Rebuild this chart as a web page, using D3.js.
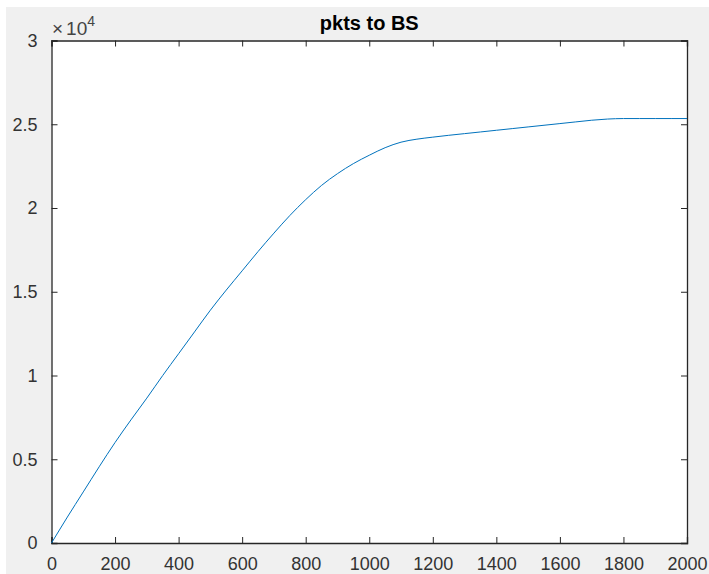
<!DOCTYPE html>
<meta charset="utf-8">
<style>
body { margin: 0; background: #fff; }
svg { display: block; }
.axis text { font-family: "Liberation Sans", Arial, sans-serif; font-size: 18px; fill: #333; }
.axis line, .axis path { stroke: #262626; }
</style>
<svg width="709" height="574"></svg>
<script src="https://d3js.org/d3.v7.min.js"></script>
<script>

// data
var pktX = [0, 50, 100, 150, 200, 250, 300, 350, 400, 450, 500, 550, 600, 650, 700, 750, 800, 850, 900, 950,
            1000, 1050, 1100, 1150, 1200, 1250, 1300, 1350, 1400, 1450, 1500, 1550, 1600, 1650, 1700, 1750,
            1800, 1850, 1900, 1950, 2000];
var pktY = [0, 1550, 3050, 4550, 6000, 7350, 8650, 10000, 11300, 12600, 13900, 15100, 16250, 17400, 18500, 19550,
            20500, 21350, 22050, 22650, 23150, 23600, 23930, 24110, 24230, 24340, 24440, 24540, 24640, 24740,
            24840, 24940, 25040, 25140, 25240, 25310, 25340, 25340, 25340, 25340, 25340];
var xTicks = [0, 200, 400, 600, 800, 1000, 1200, 1400, 1600, 1800, 2000];
var yTicks = [0, 5000, 10000, 15000, 20000, 25000, 30000];
var yTickLabels = ["0", "0.5", "1", "1.5", "2", "2.5", "3"];

var svg = d3.select("svg");

// matlab figure background
svg.append("rect")
    .attr("x", 6).attr("y", 7)
    .attr("width", 703).attr("height", 567)
    .attr("fill", "#f0f0f0");

var pLeft = 51.5, pRight = 687, pTop = 40.5, pBottom = 543;

var x = d3.scaleLinear().domain([0, 2000]).range([pLeft, pRight]);
var y = d3.scaleLinear().domain([0, 30000]).range([pBottom, pTop]);

svg.append("rect")
    .attr("x", pLeft).attr("y", pTop)
    .attr("width", pRight - pLeft).attr("height", pBottom - pTop)
    .attr("fill", "#fff");

// axes, ticks pointing inward, box on all sides
svg.append("g").attr("class", "axis")
    .attr("transform", "translate(0," + pBottom + ")")
    .call(d3.axisBottom(x).tickValues(xTicks).tickSize(-6).tickPadding(14).tickFormat(d3.format("d")));

svg.append("g").attr("class", "axis")
    .attr("transform", "translate(0," + pTop + ")")
    .call(d3.axisTop(x).tickValues(xTicks).tickSize(-6).tickFormat(""));

svg.append("g").attr("class", "axis")
    .attr("transform", "translate(" + pLeft + ",0)")
    .call(d3.axisLeft(y).tickValues(yTicks).tickSize(-6).tickPadding(14)
      .tickFormat(function(d, i) { return yTickLabels[i]; }));

svg.append("g").attr("class", "axis")
    .attr("transform", "translate(" + pRight + ",0)")
    .call(d3.axisRight(y).tickValues(yTicks).tickSize(-6).tickFormat(""));

svg.selectAll(".axis .domain").attr("stroke-width", 1.3);

// exponent label
var ex = svg.append("text")
    .attr("x", 52).attr("y", 35)
    .attr("font-family", "Liberation Sans, Arial, sans-serif")
    .attr("font-size", 19)
    .attr("fill", "#444");
ex.append("tspan").text("\u00d7");
ex.append("tspan").attr("dx", 3).text("10");
ex.append("tspan").attr("dy", -9).attr("font-size", 14).text("4");

// title
svg.append("text")
    .attr("x", (pLeft + pRight) / 2).attr("y", 30)
    .attr("text-anchor", "middle")
    .attr("font-family", "Liberation Sans, Arial, sans-serif")
    .attr("font-size", 20)
    .attr("font-weight", "bold")
    .attr("fill", "#000")
    .text("pkts to BS");

var line = d3.line()
    .curve(d3.curveMonotoneX)
    .x(function(d, i) { return x(pktX[i]); })
    .y(function(d) { return y(d); });

svg.append("path")
    .datum(pktY)
    .attr("fill", "none")
    .attr("stroke", "#0072bd")
    .attr("stroke-width", 1)
    .attr("d", line);

</script>
